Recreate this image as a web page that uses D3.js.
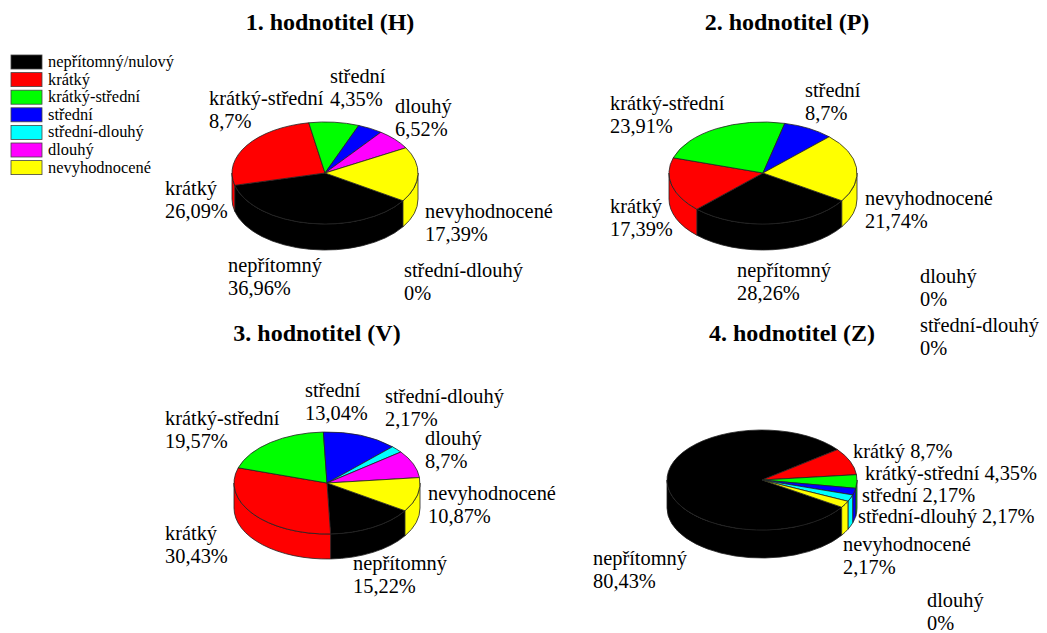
<!DOCTYPE html>
<html>
<head>
<meta charset="utf-8">
<script src="https://cdn.jsdelivr.net/npm/d3@7"></script>
<style>
  html, body { margin: 0; padding: 0; background: #fff; }
  svg { display: block; }
</style>
</head>
<body>
<svg id="chart" width="1047" height="633"></svg>
<script>
// ---- data ----
const categories = ["nepřítomný/nulový", "krátký", "krátký-střední", "střední", "střední-dlouhý", "dlouhý", "nevyhodnocené"];
const labelNames = ["nepřítomný", "krátký", "krátký-střední", "střední", "střední-dlouhý", "dlouhý", "nevyhodnocené"];
const colors = ["#000000", "#ff0000", "#00ff00", "#0000ff", "#00ffff", "#ff00ff", "#ffff00"];
const titles = ["1. hodnotitel (H)", "2. hodnotitel (P)", "3. hodnotitel (V)", "4. hodnotitel (Z)"];
const valuesH = [36.96, 26.09, 8.7, 4.35, 0, 6.52, 17.39];
const valuesP = [28.26, 17.39, 23.91, 8.7, 0, 0, 21.74];
const valuesV = [15.22, 30.43, 19.57, 13.04, 2.17, 8.7, 10.87];
const valuesZ = [80.43, 8.7, 4.35, 2.17, 2.17, 0, 2.17];
const seriesValues = [valuesH, valuesP, valuesV, valuesZ];

// ---- layout (positions only) ----
const pieGeom = [
  { cx: 325, cy: 173, rx: 93, ry: 51, depth: 26, tx: 330, ty: 30 },
  { cx: 763, cy: 173, rx: 94, ry: 51, depth: 26, tx: 787, ty: 30 },
  { cx: 327, cy: 483, rx: 93, ry: 51, depth: 25, tx: 317, ty: 341 },
  { cx: 762, cy: 480, rx: 95, ry: 50, depth: 28, tx: 792, ty: 341 }
];
// label anchor per category: [x, baseline, inline?]
const labelPos = [
  [[228, 272, 0], [165, 195, 0], [209, 105, 0], [330, 83, 0], [404, 277, 0], [395, 113, 0], [425, 218, 0]],
  [[737, 277, 0], [610, 213, 0], [610, 110, 0], [805, 97, 0], [920, 332, 0], [920, 283, 0], [865, 205, 0]],
  [[353, 570, 0], [165, 540, 0], [165, 425, 0], [305, 397, 0], [385, 403, 0], [425, 445, 0], [428, 500, 0]],
  [[593, 565, 0], [853, 458, 1], [865, 480, 1], [862, 502, 1], [858, 523, 1], [927, 607, 0], [843, 551, 0]]
];
const startDeg = 33;
const lineH = 23;

// pick an installed serif face (Times-like preferred)
const ctx = document.createElement("canvas").getContext("2d");
function hasFont(name) {
  const s = "nevyhodnocené krátký-střední WMiIl 0123";
  return ["monospace", "sans-serif"].some(fb => {
    ctx.font = `20px ${fb}`; const w0 = ctx.measureText(s).width;
    ctx.font = `20px '${name}', ${fb}`; const w1 = ctx.measureText(s).width;
    return Math.abs(w0 - w1) > 0.5;
  });
}
const serifFace = ["Liberation Serif", "Tinos", "Times New Roman", "Noto Serif", "DejaVu Serif"].find(hasFont) || "serif";
const FF = `'${serifFace}', serif`;
function fitSize(text, target, base, weight) {
  ctx.font = `${weight || "normal"} ${base}px ${FF}`;
  const w = ctx.measureText(text).width;
  return w > 0 ? base * target / w : base;
}
const labelSize = Math.min(21, fitSize("nevyhodnocené", 128, 20));
const titleSize = Math.min(24, fitSize("1. hodnotitel (H)", 172, 23, "bold"));
const legendSize = Math.min(17, fitSize("nepřítomný/nulový", 126, 16));

const svg = d3.select("#chart").attr("font-family", FF);
const color = d3.scaleOrdinal().domain(categories).range(colors);
const fmt = v => String(v).replace(".", ",") + "%";

const pie = d3.pie().sort(null).value(d => d.value)
  .startAngle(startDeg * Math.PI / 180)
  .endAngle(startDeg * Math.PI / 180 + 2 * Math.PI);

seriesValues.forEach((vals, pi) => {
  const g = pieGeom[pi];
  const data = vals.map((v, i) => ({ cat: categories[i], name: labelNames[i], value: v, idx: i }));
  const arcs = pie(data);
  const P = (t, dy = 0) => [g.cx + g.rx * Math.cos(t), g.cy + g.ry * Math.sin(t) + dy];
  const grp = svg.append("g");

  // side walls (front half only)
  const walls = [];
  arcs.forEach(a => {
    [[0, Math.PI], [2 * Math.PI, 3 * Math.PI]].forEach(([lo, hi]) => {
      const t0 = Math.max(a.startAngle, lo), t1 = Math.min(a.endAngle, hi);
      if (t1 > t0 + 1e-6) walls.push({ a, t0, t1 });
    });
  });
  grp.selectAll("path.wall").data(walls).join("path")
    .attr("class", "wall")
    .attr("d", w => {
      const p0 = P(w.t0), p1 = P(w.t1), q1 = P(w.t1, g.depth), q0 = P(w.t0, g.depth);
      return `M${p0}A${g.rx},${g.ry} 0 0 1 ${p1}L${q1}A${g.rx},${g.ry} 0 0 0 ${q0}Z`;
    })
    .attr("fill", w => color(w.a.data.cat))
    .attr("stroke", "#222").attr("stroke-width", 0.8).attr("stroke-linejoin", "round");

  // top faces
  grp.selectAll("path.top").data(arcs.filter(a => a.endAngle - a.startAngle > 1e-6)).join("path")
    .attr("class", "top")
    .attr("d", a => {
      const p0 = P(a.startAngle), p1 = P(a.endAngle);
      const large = (a.endAngle - a.startAngle) > Math.PI ? 1 : 0;
      return `M${g.cx},${g.cy}L${p0}A${g.rx},${g.ry} 0 ${large} 1 ${p1}Z`;
    })
    .attr("fill", a => color(a.data.cat))
    .attr("stroke", "#222").attr("stroke-width", 0.8).attr("stroke-linejoin", "round");

  // title
  svg.append("text").attr("x", g.tx).attr("y", g.ty)
    .attr("text-anchor", "middle").attr("font-weight", "bold").attr("font-size", titleSize)
    .text(titles[pi]);

  // labels
  data.forEach((d, i) => {
    const [x, y, inline] = labelPos[pi][i];
    const t = svg.append("text").attr("x", x).attr("y", y).attr("font-size", labelSize);
    if (inline) {
      t.text(d.name + " " + fmt(d.value));
    } else {
      t.append("tspan").attr("x", x).attr("y", y).text(d.name);
      t.append("tspan").attr("x", x).attr("y", y + lineH).text(fmt(d.value));
    }
  });
});

// legend
const legend = svg.append("g").attr("transform", "translate(11,55)");
const rows = legend.selectAll("g").data(categories).join("g")
  .attr("transform", (d, i) => `translate(0,${i * 17.6})`);
rows.append("rect").attr("width", 31).attr("height", 14)
  .attr("fill", d => color(d)).attr("stroke", "#444").attr("stroke-width", 0.8);
rows.append("text").attr("x", 37).attr("y", 12).attr("font-size", legendSize).text(d => d);
</script>
</body>
</html>
